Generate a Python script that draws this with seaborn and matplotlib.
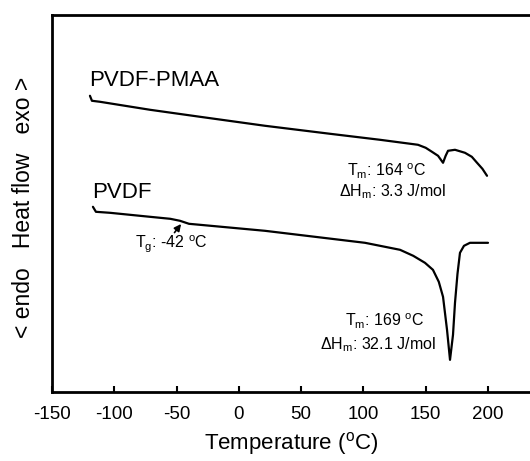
import numpy as np
import pandas as pd
import matplotlib
matplotlib.use("Agg")
import matplotlib.pyplot as plt
import seaborn as sns

# DSC curves (heat flow in arbitrary units)
temp_pmaa = [-119.5, -117.9, -111.5, -71.3, -31.2, 21.0, 73.2, 113.3, 143.8,
             150.0, 155.0, 159.9, 163.9, 166.0, 167.9, 173.5, 181.5, 187.0,
             191.2, 195.5, 199.2]
flow_pmaa = [296, 291, 290, 282, 275, 266, 258, 252, 247,
             244, 240, 236, 229, 236, 241, 242, 239, 235,
             229, 223, 216]

temp_pvdf = [-117.1, -114.7, -103.4, -71.3, -55.0, -47.2, -40.0, -31.2, 21.0,
             101.3, 129.4, 140.0, 149.4, 155.8, 160.5, 163.9, 167.1, 169.5,
             171.9, 173.5, 175.5, 177.5, 180.7, 185.5, 200.0]
flow_pvdf = [185, 180, 179, 175, 173, 171, 168, 167, 161,
             149, 142, 136, 129, 122, 110, 95, 62, 32,
             57, 89, 118, 139, 146, 149, 149]

xticks = [-150, -100, -50, 0, 50, 100, 150, 200]

df = pd.concat([
    pd.DataFrame({"T": temp_pmaa, "hf": flow_pmaa, "sample": "PVDF-PMAA"}),
    pd.DataFrame({"T": temp_pvdf, "hf": flow_pvdf, "sample": "PVDF"}),
])

sns.set_style("ticks")
plt.rcParams['font.family'] = ['Liberation Sans', 'DejaVu Sans']
plt.rcParams['mathtext.default'] = 'regular'
plt.rcParams['text.color'] = 'black'
plt.rcParams['axes.labelcolor'] = 'black'
plt.rcParams['xtick.color'] = 'black'

fig = plt.figure(figsize=(5.3, 4.61), dpi=100)
ax = fig.add_axes([0.098, 0.150, 0.902, 0.818])

sns.lineplot(data=df, x="T", y="hf", units="sample", estimator=None,
             color="black", linewidth=1.6, sort=False, ax=ax)

ax.set_xlim(-150, 233.7)
ax.set_ylim(0, 377)
ax.set_xticks(xticks)
ax.set_xticklabels([str(t) for t in xticks], fontsize=13.5)
ax.set_yticks([])
ax.tick_params(axis="x", direction="in", length=4, width=1.5, pad=10)
for s in ["left", "bottom", "top"]:
    ax.spines[s].set_linewidth(2)
    ax.spines[s].set_color("black")
ax.spines["right"].set_visible(False)

ax.set_xlabel("Temperature ($^{o}$C)", fontsize=16, labelpad=5)
ax.set_ylabel("< endo   Heat flow   exo >", fontsize=16.5)
ax.yaxis.set_label_coords(-0.036, 0.49)

ax.text(-120, 306, "PVDF-PMAA", fontsize=16)
ax.text(-118, 194, "PVDF", fontsize=16)
ax.text(119, 220, "T$_m$: 164 $^o$C", fontsize=11.5, ha="center", va="center")
ax.text(123, 200, "ΔH$_m$: 3.3 J/mol", fontsize=11.5, ha="center", va="center")
ax.text(117, 70, "T$_m$: 169 $^o$C", fontsize=11.5, ha="center", va="center")
ax.text(112, 47, "ΔH$_m$: 32.1 J/mol", fontsize=11.5, ha="center", va="center")
ax.text(-54, 147, "T$_g$: -42 $^o$C", fontsize=11.5, ha="center", va="center")
ax.annotate("", xy=(-45, 170), xytext=(-53, 157),
            arrowprops=dict(arrowstyle="-|>", color="black", lw=1.2,
                            mutation_scale=10))

fig.savefig("out.png", dpi=100)
